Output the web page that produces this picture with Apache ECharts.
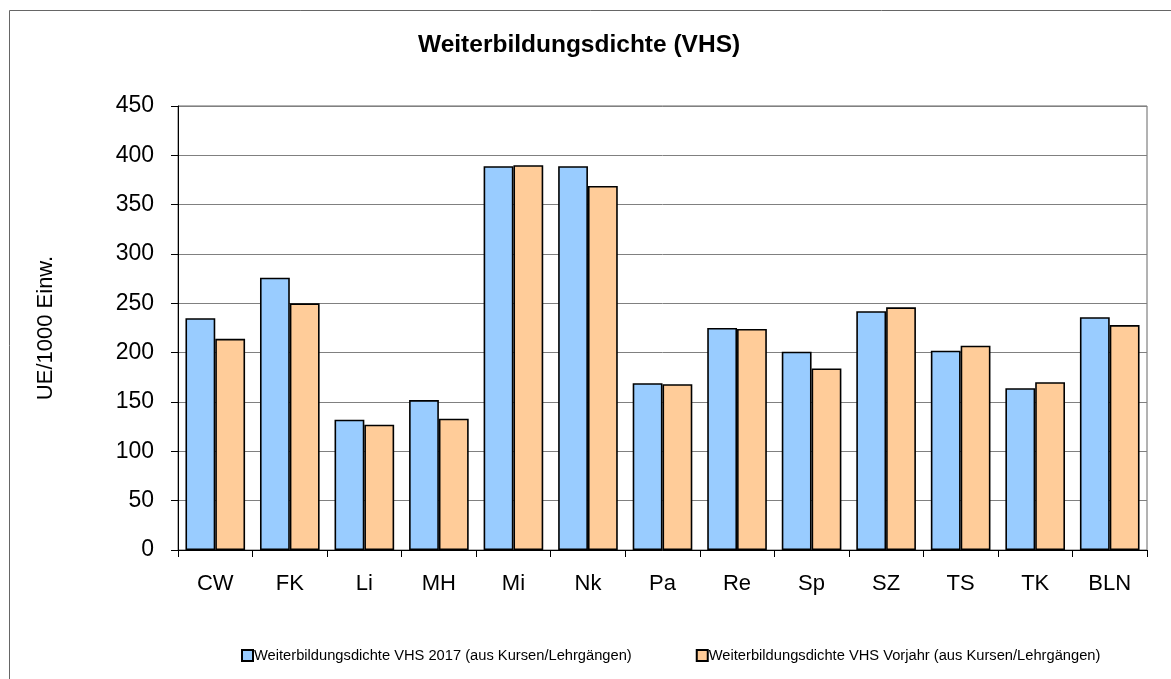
<!DOCTYPE html>
<html>
<head>
<meta charset="utf-8">
<script src="https://cdn.jsdelivr.net/npm/echarts@6/dist/echarts.min.js"></script>
<style>
  html, body { margin: 0; padding: 0; background: #fff; }
  #chart { width: 1171px; height: 679px; }
</style>
</head>
<body>
<div id="chart"></div>
<script>
// Bezirke
const categories = ['CW', 'FK', 'Li', 'MH', 'Mi', 'Nk', 'Pa', 'Re', 'Sp', 'SZ', 'TS', 'TK', 'BLN'];
// UE pro 1000 Einwohner
const vhs2017 = [235, 276, 132, 152, 389, 389, 169, 225, 201, 242, 202, 164, 236];
const vhsVorjahr = [214, 250, 127, 133, 390, 369, 168, 224, 184, 246, 207, 170, 228];
const yTicks = [0, 50, 100, 150, 200, 250, 300, 350, 400, 450];

const font = 'Liberation Sans, Arial, sans-serif';

let chart = echarts.init(document.getElementById('chart'), null, { renderer: 'canvas' });

let options = {
  backgroundColor: '#fff',
  animation: false,
  textStyle: { fontFamily: font, color: '#000' },
  // Rahmen um das ganze Diagramm
  graphic: [{
    type: 'rect',
    shape: { x: 9.5, y: 10.5, width: 1200, height: 700 },
    style: { fill: 'none', stroke: '#666', lineWidth: 1 },
    silent: true
  }],
  title: {
    text: 'Weiterbildungsdichte (VHS)',
    left: 413,
    top: 28,
    textStyle: { fontFamily: font, fontSize: 24.5, fontWeight: 'bold', color: '#000' }
  },
  legend: {
    left: 236,
    top: 643,
    icon: 'rect',
    itemWidth: 11,
    itemHeight: 11,
    itemGap: 64,
    textStyle: { fontFamily: font, fontSize: 14.7, color: '#000', padding: [0, 0, 0, -4] },
    data: ['Weiterbildungsdichte VHS 2017 (aus Kursen/Lehrgängen)', 'Weiterbildungsdichte VHS Vorjahr (aus Kursen/Lehrgängen)']
  },
  grid: {
    left: 178,
    right: 24,
    top: 106,
    bottom: 129,
    show: true,
    borderColor: '#666',
    borderWidth: 1,
    containLabel: false
  },
  xAxis: {
    type: 'category',
    data: categories,
    axisLine: { lineStyle: { color: '#000', width: 1 } },
    axisTick: { show: true, alignWithLabel: false, length: 7, lineStyle: { color: '#000' } },
    axisLabel: { fontFamily: font, fontSize: 22, color: '#000', margin: 23 },
    splitLine: { show: false }
  },
  yAxis: {
    type: 'value',
    min: yTicks[0],
    max: yTicks[yTicks.length - 1],
    interval: 50,
    name: 'UE/1000 Einw.',
    nameLocation: 'middle',
    nameGap: 121,
    nameRotate: 90,
    nameTextStyle: { fontFamily: font, fontSize: 22, color: '#000' },
    axisLine: { show: true, lineStyle: { color: '#000', width: 1 } },
    axisTick: { show: true, length: 7, lineStyle: { color: '#000' } },
    axisLabel: { fontFamily: font, fontSize: 23, color: '#000', margin: 24 },
    splitLine: { show: true, lineStyle: { color: '#808080', width: 1 } }
  },
  series: [
    {
      name: 'Weiterbildungsdichte VHS 2017 (aus Kursen/Lehrgängen)',
      type: 'bar',
      data: vhs2017,
      barGap: '0%',
      barCategoryGap: '20%',
      itemStyle: { color: '#99CCFF', borderColor: '#000', borderWidth: 1.6 }
    },
    {
      name: 'Weiterbildungsdichte VHS Vorjahr (aus Kursen/Lehrgängen)',
      type: 'bar',
      data: vhsVorjahr,
      barGap: '0%',
      barCategoryGap: '20%',
      itemStyle: { color: '#FFCC99', borderColor: '#000', borderWidth: 1.6 }
    }
  ]
};

chart.setOption(options);
</script>
</body>
</html>
